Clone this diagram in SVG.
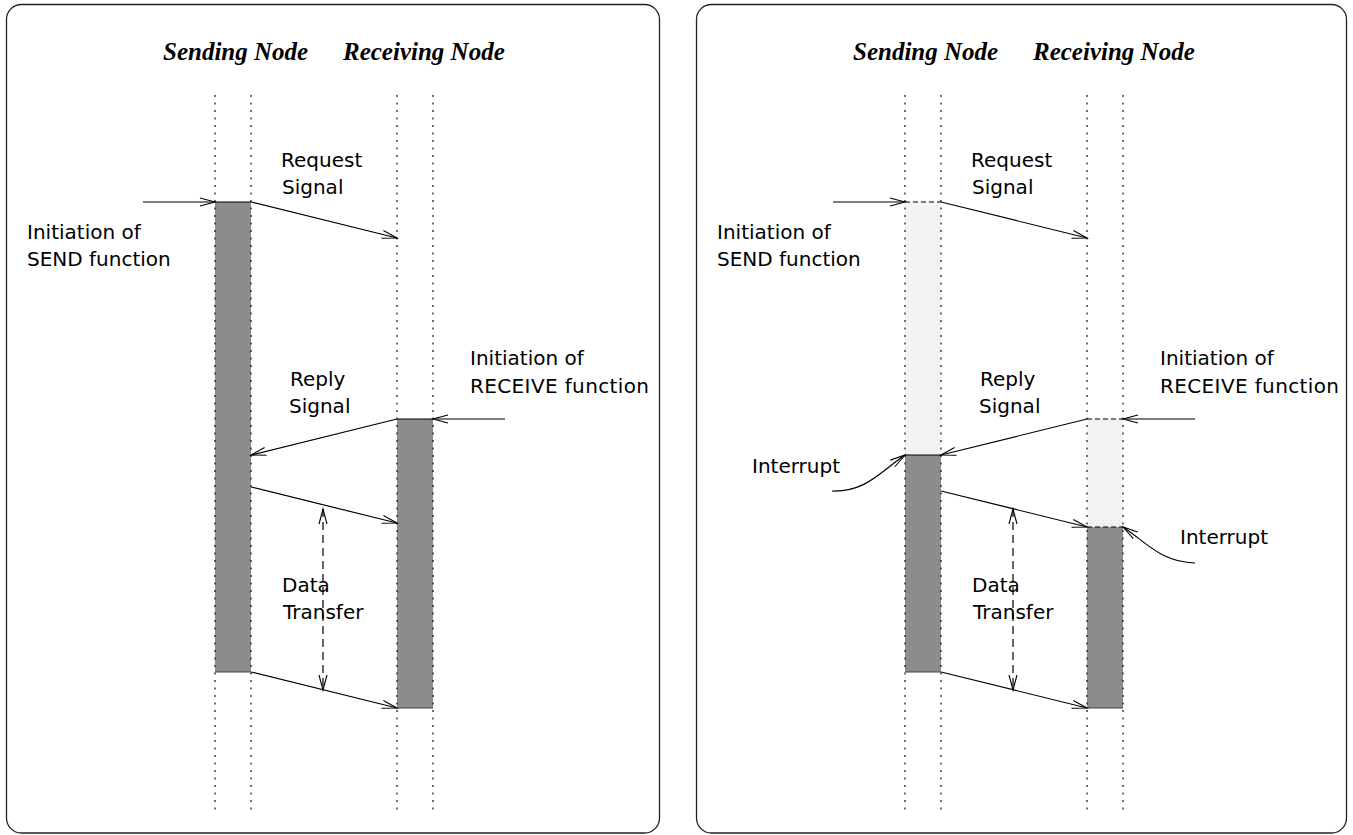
<svg xmlns="http://www.w3.org/2000/svg" width="1353" height="835" viewBox="0 0 1353 835">
<style>
.panel{fill:#fff;stroke:#222;stroke-width:1.3}
.life{stroke:#111;stroke-width:1.2;stroke-dasharray:2 5.5;fill:none}
.dark{fill:#8c8c8c;stroke:none}
.light{fill:#f2f2f2;stroke:none}
.edge{stroke:#000;stroke-width:1.2;fill:none}
.edgeb{stroke:#444;stroke-width:1.2;fill:none}
.dedge{stroke:#000;stroke-width:1.2;stroke-dasharray:5 3;fill:none}
.arr{stroke:#000;stroke-width:1.2;fill:none;marker-end:url(#ah)}
.darr{stroke:#000;stroke-width:1.2;fill:none;stroke-dasharray:8 5;marker-end:url(#ah);marker-start:url(#ahs)}
.hd{font-family:"Liberation Serif","Times New Roman",serif;font-weight:bold;font-style:italic;font-size:25px;fill:#000}
.lb{font-family:"DejaVu Sans","Liberation Sans",sans-serif;font-size:20px;fill:#000}
</style>
<defs>
<marker id="ah" markerWidth="20" markerHeight="12" refX="16" refY="6" orient="auto" markerUnits="userSpaceOnUse"><path d="M1,2 L16,6 L1,10" fill="none" stroke="#000" stroke-width="1.1"/></marker>
<marker id="ahs" markerWidth="20" markerHeight="12" refX="16" refY="6" orient="auto-start-reverse" markerUnits="userSpaceOnUse"><path d="M1,2 L16,6 L1,10" fill="none" stroke="#000" stroke-width="1.1"/></marker>
</defs>

<g id="left-panel">
<rect class="panel" x="6.5" y="4.5" width="653" height="828.5" rx="15"/>
<text class="hd" x="163" y="60">Sending Node</text>
<text class="hd" x="343" y="60">Receiving Node</text>
</g>
<g id="left-send-bar">
<rect class="dark" x="215" y="202" width="36" height="470"/>
<line class="edge" x1="215" y1="202" x2="251" y2="202"/>
<line class="edgeb" x1="215" y1="672" x2="251" y2="672"/>
</g>
<g id="left-recv-bar">
<rect class="dark" x="397" y="419" width="36" height="289"/>
<line class="edge" x1="397" y1="419" x2="433" y2="419"/>
<line class="edgeb" x1="397" y1="708" x2="433" y2="708"/>
</g>
<g id="left-lifelines">
<line class="life" x1="215" y1="95" x2="215" y2="815"/>
<line class="life" x1="251" y1="95" x2="251" y2="815"/>
<line class="life" x1="397" y1="95" x2="397" y2="815"/>
<line class="life" x1="433" y1="95" x2="433" y2="815"/>
</g>
<g id="left-labels">
<text class="lb" x="281" y="167">Request</text>
<text class="lb" x="282" y="194">Signal</text>
<text class="lb" x="27" y="239">Initiation of</text>
<text class="lb" x="27" y="266">SEND function</text>
<text class="lb" x="470" y="365">Initiation of</text>
<text class="lb" x="470" y="393" textLength="179">RECEIVE function</text>
<text class="lb" x="290" y="386">Reply</text>
<text class="lb" x="289" y="413">Signal</text>
<text class="lb" x="282" y="592">Data</text>
<text class="lb" x="283" y="619">Transfer</text>
</g>

<g id="right-panel">
<rect class="panel" x="696.5" y="4.5" width="650" height="828.5" rx="15"/>
<text class="hd" x="853" y="60">Sending Node</text>
<text class="hd" x="1033" y="60">Receiving Node</text>
</g>
<g id="right-send-bar">
<rect class="light" x="905" y="202" width="36" height="253"/>
<rect class="dark" x="905" y="455" width="36" height="217"/>
<line class="dedge" x1="905" y1="202" x2="941" y2="202"/>
<line class="edge" x1="905" y1="455" x2="941" y2="455"/>
<line class="edgeb" x1="905" y1="672" x2="941" y2="672"/>
</g>
<g id="right-recv-bar">
<rect class="light" x="1087" y="419" width="36" height="108"/>
<rect class="dark" x="1087" y="527" width="36" height="181"/>
<line class="dedge" x1="1087" y1="419" x2="1123" y2="419"/>
<line class="dedge" x1="1087" y1="527" x2="1123" y2="527"/>
<line class="edgeb" x1="1087" y1="708" x2="1123" y2="708"/>
</g>
<g id="right-lifelines">
<line class="life" x1="905" y1="95" x2="905" y2="815"/>
<line class="life" x1="941" y1="95" x2="941" y2="815"/>
<line class="life" x1="1087" y1="95" x2="1087" y2="815"/>
<line class="life" x1="1123" y1="95" x2="1123" y2="815"/>
</g>
<g id="right-labels">
<text class="lb" x="971" y="167">Request</text>
<text class="lb" x="972" y="194">Signal</text>
<text class="lb" x="717" y="239">Initiation of</text>
<text class="lb" x="717" y="266">SEND function</text>
<text class="lb" x="1160" y="365">Initiation of</text>
<text class="lb" x="1160" y="393" textLength="179">RECEIVE function</text>
<text class="lb" x="980" y="386">Reply</text>
<text class="lb" x="979" y="413">Signal</text>
<text class="lb" x="972" y="592">Data</text>
<text class="lb" x="973" y="619">Transfer</text>
<text class="lb" x="752" y="473">Interrupt</text>
<text class="lb" x="1180" y="544">Interrupt</text>
</g>

<g id="connectors">
<line class="arr" x1="143" y1="202" x2="215" y2="202"/>
<line class="arr" x1="251" y1="202" x2="397" y2="238"/>
<line class="arr" x1="505" y1="419" x2="433" y2="419"/>
<line class="arr" x1="397" y1="419" x2="251" y2="455"/>
<line class="arr" x1="251" y1="487" x2="397" y2="523"/>
<line class="arr" x1="251" y1="672" x2="397" y2="708"/>
<line class="darr" x1="323" y1="509" x2="323" y2="690"/>

<line class="arr" x1="833" y1="202" x2="905" y2="202"/>
<line class="arr" x1="941" y1="202" x2="1087" y2="238"/>
<line class="arr" x1="1195" y1="419" x2="1123" y2="419"/>
<line class="arr" x1="1087" y1="419" x2="941" y2="455"/>
<line class="arr" x1="941" y1="491" x2="1087" y2="527"/>
<line class="arr" x1="941" y1="672" x2="1087" y2="708"/>
<line class="darr" x1="1013" y1="509" x2="1013" y2="690"/>
<path class="arr" d="M832,491 C866,492 880,472 905,455"/>
<path class="arr" d="M1195,563 C1161,562 1147,543 1123,527"/>
</g>
</svg>
